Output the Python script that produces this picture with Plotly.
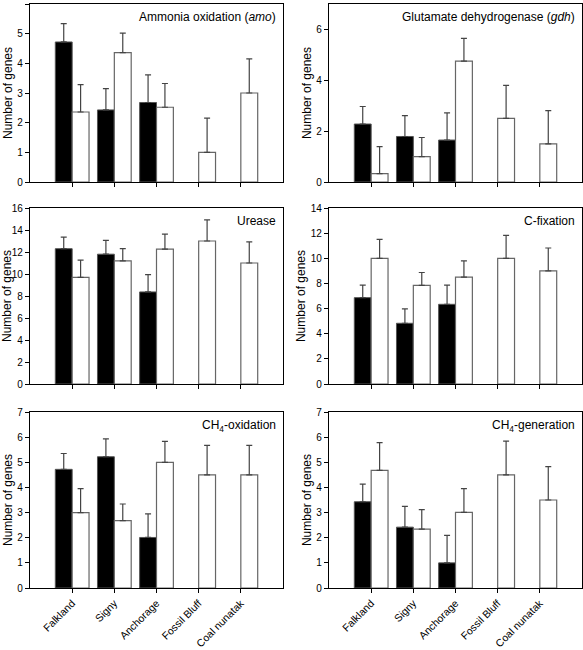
import plotly.graph_objects as go

sites = ["Falkland", "Signy", "Anchorage", "Fossil Bluff", "Coal nunatak"]

# black bars (first series) – None where absent
amo_black = [4.72, 2.43, 2.68, None, None]
amo_black_err = [0.62, 0.72, 0.93, None, None]
amo_white = [2.36, 4.36, 2.52, 1.0, 3.0]
amo_white_err = [0.92, 0.66, 0.80, 1.15, 1.15]

gdh_black = [2.28, 1.79, 1.65, None, None]
gdh_black_err = [0.69, 0.82, 1.07, None, None]
gdh_white = [0.33, 1.0, 4.75, 2.5, 1.5]
gdh_white_err = [1.06, 0.75, 0.9, 1.3, 1.31]

ure_black = [12.3, 11.8, 8.37, None, None]
ure_black_err = [1.05, 1.25, 1.57, None, None]
ure_white = [9.7, 11.2, 12.27, 13.0, 11.0]
ure_white_err = [1.57, 1.1, 1.36, 1.92, 1.92]

cfix_black = [6.87, 4.83, 6.34, None, None]
cfix_black_err = [1.0, 1.14, 1.53, None, None]
cfix_white = [10.0, 7.85, 8.5, 10.0, 9.0]
cfix_white_err = [1.5, 1.02, 1.3, 1.82, 1.82]

ch4ox_black = [4.72, 5.22, 2.01, None, None]
ch4ox_black_err = [0.63, 0.71, 0.94, None, None]
ch4ox_white = [3.0, 2.68, 5.0, 4.5, 4.5]
ch4ox_white_err = [0.95, 0.66, 0.83, 1.17, 1.17]

ch4gen_black = [3.43, 2.42, 1.0, None, None]
ch4gen_black_err = [0.7, 0.83, 1.09, None, None]
ch4gen_white = [4.68, 2.34, 3.01, 4.5, 3.5]
ch4gen_white_err = [1.1, 0.78, 0.94, 1.34, 1.33]

panels = [
    ("Ammonia oxidation (<i>amo</i>)", amo_black, amo_black_err, amo_white, amo_white_err, 6, 1),
    ("Glutamate dehydrogenase (<i>gdh</i>)", gdh_black, gdh_black_err, gdh_white, gdh_white_err, 7, 2),
    ("Urease", ure_black, ure_black_err, ure_white, ure_white_err, 16, 2),
    ("C-fixation", cfix_black, cfix_black_err, cfix_white, cfix_white_err, 14, 2),
    ("CH<sub>4</sub>-oxidation", ch4ox_black, ch4ox_black_err, ch4ox_white, ch4ox_white_err, 7, 1),
    ("CH<sub>4</sub>-generation", ch4gen_black, ch4gen_black_err, ch4gen_white, ch4gen_white_err, 7, 1),
]

W, H = 583, 650
ml, mr, mt, mb = 30, 1, 4, 62
pw, ph = W - ml - mr, H - mt - mb

def fx(px):
    return (px - ml) / pw

def fy(py):
    return 1 - (py - mt) / ph

col_px = [(30, 283), (329, 582)]
row_px = [(4, 182), (208, 384), (412, 588)]

fig = go.Figure()
FONT = "Liberation Sans, Arial, sans-serif"

for i, (title, kb, kbe, wv, wve, ymax, dt) in enumerate(panels):
    r, c = divmod(i, 2)
    n = i + 1
    xa = "x" if n == 1 else f"x{n}"
    ya = "y" if n == 1 else f"y{n}"
    fig.add_trace(go.Bar(
        x=sites, y=kb, xaxis=xa, yaxis=ya, offsetgroup="a",
        marker=dict(color="black", line=dict(color="#555555", width=1)),
        error_y=dict(type="data", array=kbe, symmetric=False, arrayminus=[0] * 5,
                     color="#444444", thickness=1.2, width=3),
        showlegend=False, hoverinfo="skip",
    ))
    fig.add_trace(go.Bar(
        x=sites, y=wv, xaxis=xa, yaxis=ya, offsetgroup="b",
        marker=dict(color="white", line=dict(color="#666666", width=1.2)),
        error_y=dict(type="data", array=wve, symmetric=False, arrayminus=[0] * 5,
                     color="#444444", thickness=1.2, width=3),
        showlegend=False, hoverinfo="skip",
    ))
    x0, x1 = col_px[c]
    y0, y1 = row_px[r]
    xkey = "xaxis" if n == 1 else f"xaxis{n}"
    ykey = "yaxis" if n == 1 else f"yaxis{n}"
    fig.update_layout(**{
        xkey: dict(domain=[fx(x0), fx(x1)], anchor=ya, range=[-1, 5],
                   showline=True, linecolor="black", linewidth=1.2, mirror=True,
                   ticks="outside", ticklen=4, tickcolor="black",
                   showticklabels=(r == 2), tickangle=-45, automargin=False,
                   tickfont=dict(family=FONT, size=10.5, color="black"),
                   showgrid=False, zeroline=False, fixedrange=True),
        ykey: dict(domain=[fy(y1), fy(y0)], anchor=xa, range=[0, ymax],
                   dtick=dt, showline=True, linecolor="black", linewidth=1.2, mirror=True,
                   ticks="outside", ticklen=4, tickcolor="black", automargin=False,
                   tickfont=dict(family=FONT, size=10, color="black"),
                   title=dict(text="Number of genes", standoff=2,
                              font=dict(family=FONT, size=12, color="black")),
                   showgrid=False, zeroline=False, fixedrange=True),
    })
    fig.add_annotation(
        xref=f"{xa} domain", yref=f"{ya} domain", x=0.98, y=0.98,
        xanchor="right", yanchor="top", showarrow=False, text=title,
        font=dict(family=FONT, size=12, color="black"),
    )

fig.update_layout(
    width=W, height=H, margin=dict(l=ml, r=mr, t=mt, b=mb, autoexpand=False),
    barmode="group", bargap=0.2, bargroupgap=0,
    paper_bgcolor="white", plot_bgcolor="white",
)

fig.write_html("out.html", config={"displayModeBar": False},
               post_script="document.body.style.margin='0';document.body.style.overflow='hidden';")
